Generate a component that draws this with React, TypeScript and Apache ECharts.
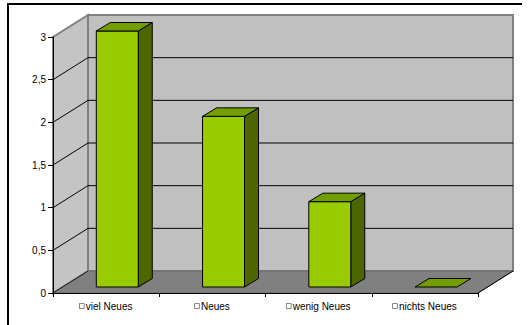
import React, { useEffect, useRef } from "react";
import * as echarts from "echarts";

const categories = ["viel Neues", "Neues", "wenig Neues", "nichts Neues"];
const values = [3, 2, 1, 0];
const yMin = 0;
const yMax = 3;
const yInterval = 0.5;
const yTicks = [0, 0.5, 1, 1.5, 2, 2.5, 3];

const FONT = "Liberation Sans, Arial, sans-serif";
const DX = 35; // wall depth x
const DY = 22; // wall depth y

export default function App() {
  const ref = useRef<HTMLDivElement>(null);
  useEffect(() => {
    if (!ref.current) return;
    const chart = echarts.init(ref.current, null, { renderer: "svg" });

    const wallsRender = (params: any, api: any) => {
      const bw = api.size([1, 0])[0];
      const c0 = api.coord([0, yMin]);
      const left = c0[0] - bw / 2;
      const right = left + bw * categories.length;
      const bottom = c0[1];
      const top = api.coord([0, yMax])[1];
      const children: any[] = [];
      children.push({
        type: "rect",
        shape: { x: left + DX, y: top - DY, width: right - left, height: bottom - top },
        style: { fill: "#C0C0C0", stroke: "#808080", lineWidth: 2 },
      });
      children.push({
        type: "polygon",
        shape: { points: [[left, bottom], [left, top], [left + DX, top - DY], [left + DX, bottom - DY]] },
        style: { fill: "#C4C4C4", stroke: "#808080", lineWidth: 2 },
      });
      children.push({
        type: "polygon",
        shape: { points: [[left, bottom], [right, bottom], [right + DX, bottom - DY], [left + DX, bottom - DY]] },
        style: { fill: "#808080", stroke: "#6a6a6a", lineWidth: 1 },
      });
      yTicks.forEach((v) => {
        if (v === yMin || v === yMax) return;
        const y = api.coord([0, v])[1];
        children.push({
          type: "line",
          shape: { x1: left + DX, y1: y - DY, x2: right + DX, y2: y - DY },
          style: { stroke: "#000", lineWidth: 1 },
        });
        children.push({
          type: "line",
          shape: { x1: left, y1: y, x2: left + DX, y2: y - DY },
          style: { stroke: "#000", lineWidth: 1 },
        });
      });
      children.push({
        type: "line",
        shape: { x1: left, y1: bottom, x2: left + DX, y2: bottom - DY },
        style: { stroke: "#222", lineWidth: 1 },
      });
      children.push({
        type: "line",
        shape: { x1: right, y1: bottom, x2: right + DX, y2: bottom - DY },
        style: { stroke: "#000", lineWidth: 1 },
      });
      return { type: "group", children };
    };

    const barsRender = (params: any, api: any) => {
      const idx = api.value(0);
      const val = api.value(1);
      const bw = api.size([1, 0])[0];
      const pTop = api.coord([idx, val]);
      const pBot = api.coord([idx, yMin]);
      const w = bw * 0.395;
      const cx = pTop[0] + bw * 0.105;
      const shiftY = -6;
      const x0 = cx - w / 2;
      const x1 = cx + w / 2;
      const yT = pTop[1] + shiftY;
      const yB = pBot[1] + shiftY;
      const dx = 14;
      const dy = 8.5;
      const children: any[] = [];
      if (yB - yT > 0.5) {
        children.push({
          type: "polygon",
          shape: { points: [[x1, yT], [x1 + dx, yT - dy], [x1 + dx, yB - dy], [x1, yB]] },
          style: { fill: "#4D6600", stroke: "#000", lineWidth: 1 },
        });
        children.push({
          type: "rect",
          shape: { x: x0, y: yT, width: w, height: yB - yT },
          style: { fill: "#99CC00", stroke: "#000", lineWidth: 1 },
        });
      }
      children.push({
        type: "polygon",
        shape: { points: [[x0, yT], [x1, yT], [x1 + dx, yT - dy], [x0 + dx, yT - dy]] },
        style: { fill: "#739E00", stroke: "#000", lineWidth: 1 },
      });
      return { type: "group", children };
    };

    chart.setOption({
      animation: false,
      backgroundColor: "#fff",
      textStyle: { fontFamily: FONT },
      graphic: [
        {
          type: "polyline",
          shape: { points: [[8, 330], [8, 4], [522, 4]] },
          style: { fill: "none", stroke: "#000", lineWidth: 2 },
          z: 100,
        },
      ],
      grid: { left: 53, top: 37, width: 425, height: 256, outerBoundsMode: "none", containLabel: false },
      xAxis: {
        type: "category",
        data: categories,
        z: 5,
        axisLine: { show: true, lineStyle: { color: "#000", width: 1 } },
        axisTick: { show: true, length: 4, lineStyle: { color: "#000" } },
        axisLabel: {
          margin: 8,
          interval: 0,
          fontFamily: FONT,
          formatter: (v: string) => `{sq| }{t|${v}}`,
          rich: {
            sq: { width: 4, height: 4, borderColor: "#666", borderWidth: 0.8, backgroundColor: "#fff", fontSize: 4 },
            t: { fontSize: 10, color: "#000", fontFamily: FONT, padding: [0, 0, 0, 2] },
          },
        },
        splitLine: { show: false },
      },
      yAxis: {
        type: "value",
        min: yMin,
        max: yMax,
        interval: yInterval,
        z: 5,
        axisLine: { show: true, lineStyle: { color: "#000", width: 1 } },
        axisTick: { show: true, length: 5, lineStyle: { color: "#000" } },
        axisLabel: {
          margin: 7,
          fontSize: 10,
          color: "#000",
          fontFamily: FONT,
          formatter: (v: number) => String(v).replace(".", ","),
        },
        splitLine: { show: false },
      },
      series: [
        {
          type: "custom",
          renderItem: wallsRender,
          data: [[0, 0]],
          z: 1,
          silent: true,
        },
        {
          type: "custom",
          renderItem: barsRender,
          data: values.map((v, i) => [i, v]),
          z: 3,
        },
      ],
    });
    return () => chart.dispose();
  }, []);
  return (
    <div
      ref={ref}
      style={{ position: "absolute", left: 0, top: 0, width: 531, height: 325 }}
    />
  );
}
